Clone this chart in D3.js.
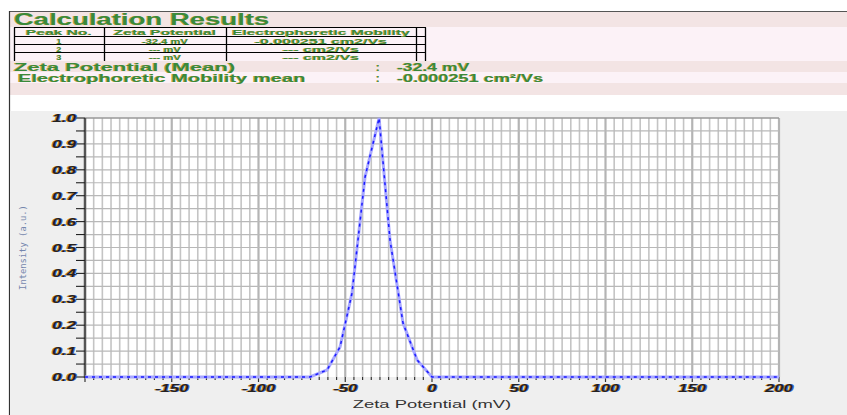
<!DOCTYPE html>
<html>
<head>
<meta charset="utf-8">
<script src="https://cdn.jsdelivr.net/npm/d3@7"></script>
<style>
  body { margin: 0; background: #fff; }
  svg { display: block; font-family: 'Liberation Sans', Arial, sans-serif; }
  .tick-lbl { font-weight: bold; font-style: italic; font-size: 11.5px; fill: #222;
    text-shadow: -0.7px 0 0 #d08a20, 0.7px 0 0 #3a6ad0; }
  .hdr { fill: #3a8a3a; font-weight: bold; text-shadow: -0.5px 0 0 #c9a040; }
</style>
</head>
<body>
<div id="chart"></div>
<script>
// table data
const tableHeader = ['Peak No.', 'Zeta Potential', 'Electrophoretic Mobility']
const peakNo = ['1', '2', '3']
const peakZeta = ['-32.4 mV', '--- mV', '--- mV']
const peakMobility = ['-0.000251 cm2/Vs', '--- cm2/Vs', '--- cm2/Vs']
const zetaMean = '-32.4 mV'
const mobilityMean = '-0.000251 cm²/Vs'

// distribution
const zeta = [-200, -70.3, -60.5, -53, -46.1, -38.6, -30.5, -24.2, -16.7, -8.6, 0, 200]
const intensity = [0, 0, 0.027, 0.116, 0.324, 0.772, 1.0, 0.529, 0.208, 0.066, 0, 0]
const xTicks = [-150, -100, -50, 0, 50, 100, 150, 200]
const yTicks = [0, 0.1, 0.2, 0.3, 0.4, 0.5, 0.6, 0.7, 0.8, 0.9, 1.0]

const W = 847
const H = 415
const margin = { top: 118, left: 85, right: 68, bottom: 38 }

// the original uses a very wide font, so widen the text
function stretch(sel, f) {
  sel.each(function() {
    const w = this.getComputedTextLength()
    d3.select(this).attr('textLength', w * f).attr('lengthAdjust', 'spacingAndGlyphs')
  })
}

const svg = d3
  .select('#chart')
  .append('svg')
  .attr('width', W)
  .attr('height', H)

// --- header panel ---
svg.append('rect').attr('x', 9).attr('y', 11).attr('width', W - 9).attr('height', H - 11).attr('fill', '#fff')
const bands = [
  [12, 27, '#f3e4e4'],
  [27, 61, '#fcf2f7'],
  [61, 72, '#f3e4e4'],
  [72, 83, '#fcf2f7'],
  [83, 95, '#f3e4e4']
]
bands.forEach(b => {
  svg.append('rect').attr('x', 10).attr('y', b[0]).attr('width', W - 10).attr('height', b[1] - b[0]).attr('fill', b[2])
})
svg.append('line').attr('x1', 9).attr('x2', W).attr('y1', 11.5).attr('y2', 11.5).attr('stroke', '#555').attr('stroke-width', 1.2)
svg.append('line').attr('x1', 9.5).attr('x2', 9.5).attr('y1', 11).attr('y2', H).attr('stroke', '#333').attr('stroke-width', 1.2)

svg.append('text')
  .attr('class', 'hdr')
  .attr('x', 14)
  .attr('y', 24.8)
  .attr('font-size', 16)
  .text('Calculation Results')
  .call(stretch, 1.72)

// table
const colX = [14, 104, 226, 416, 425]
const rowY = [27.5, 36.5, 44.5, 52.5, 61]
const colStretch = [1.1, 1.4, 2.0]
const tbl = svg.append('g')
colX.forEach(x => {
  tbl.append('line').attr('x1', x + 0.5).attr('x2', x + 0.5).attr('y1', rowY[0]).attr('y2', rowY[4]).attr('stroke', '#000').attr('stroke-width', 1.3)
})
rowY.slice(0, 4).forEach(y => {
  tbl.append('line').attr('x1', colX[0]).attr('x2', colX[4] + 1).attr('y1', y).attr('y2', y).attr('stroke', '#000').attr('stroke-width', 1)
})
const rows = [tableHeader].concat(peakNo.map((d, i) => [d, peakZeta[i], peakMobility[i]]))
rows.forEach((r, i) => {
  r.forEach((t, j) => {
    tbl.append('text')
      .attr('class', 'hdr')
      .attr('x', (colX[j] + colX[j + 1]) / 2)
      .attr('y', rowY[i] + 7.2)
      .attr('text-anchor', 'middle')
      .attr('font-size', 8)
      .attr('font-weight', i === 0 ? 'normal' : 'bold')
      .text(t)
      .call(stretch, i === 0 ? 1.95 : colStretch[j])
  })
})

svg.append('text').attr('class', 'hdr').attr('x', 14).attr('y', 70.5).attr('font-size', 11).text('Zeta Potential (Mean)').call(stretch, 2.0)
svg.append('text').attr('class', 'hdr').attr('x', 18).attr('y', 81.5).attr('font-size', 11).text('Electrophoretic Mobility mean').call(stretch, 1.83)
svg.append('text').attr('class', 'hdr').attr('x', 376).attr('y', 70.5).attr('font-size', 11).text(':')
svg.append('text').attr('class', 'hdr').attr('x', 376).attr('y', 81.5).attr('font-size', 11).text(':')
svg.append('text').attr('class', 'hdr').attr('x', 397).attr('y', 70.5).attr('font-size', 11).text(zetaMean).call(stretch, 1.6)
svg.append('text').attr('class', 'hdr').attr('x', 397).attr('y', 81.5).attr('font-size', 11).text(mobilityMean).call(stretch, 1.65)

// --- plot panel ---
svg.append('rect').attr('x', 10).attr('y', 111).attr('width', W - 10).attr('height', H - 111).attr('fill', '#efefef')

const x = d3.scaleLinear().domain([-200, 200]).range([margin.left, W - margin.right])
const y = d3.scaleLinear().domain([0, 1]).range([H - margin.bottom, margin.top])

svg.append('rect')
  .attr('x', x(-200)).attr('y', y(1))
  .attr('width', x(200) - x(-200)).attr('height', y(0) - y(1))
  .attr('fill', '#fff')

const grid = svg.append('g')
grid.selectAll('.vg')
  .data(d3.range(-195, 201, 5))
  .enter()
  .append('line')
  .attr('x1', d => x(d)).attr('x2', d => x(d))
  .attr('y1', y(1)).attr('y2', y(0))
  .attr('stroke', d => d % 50 === 0 ? '#b4b4b4' : '#c4c4c4')
  .attr('stroke-width', d => d % 50 === 0 ? 2.2 : 1.6)
grid.selectAll('.hg')
  .data(d3.range(0.05, 1.0001, 0.05))
  .enter()
  .append('line')
  .attr('x1', x(-200)).attr('x2', x(200))
  .attr('y1', d => y(d)).attr('y2', d => y(d))
  .attr('stroke', '#b8b8b8')
  .attr('stroke-width', 1.2)
svg.append('line').attr('x1', x(-200)).attr('x2', x(200)).attr('y1', y(1)).attr('y2', y(1)).attr('stroke', '#888').attr('stroke-width', 1)

// axes
const yAxis = svg.append('g')
yAxis.append('line').attr('x1', x(-200)).attr('x2', x(-200)).attr('y1', y(1)).attr('y2', y(0) + 1).attr('stroke', '#555').attr('stroke-width', 2.5)
yAxis.selectAll('.yt')
  .data(d3.range(0, 1.0001, 0.05))
  .enter()
  .append('line')
  .attr('x1', x(-200) - 9).attr('x2', x(-200))
  .attr('y1', d => y(d)).attr('y2', d => y(d))
  .attr('stroke', '#222').attr('stroke-width', 1.1)
yAxis.selectAll('.ylab')
  .data(yTicks)
  .enter()
  .append('text')
  .attr('class', 'tick-lbl')
  .attr('x', x(-200) - 9)
  .attr('y', d => y(d) + 4)
  .attr('text-anchor', 'end')
  .text(d => d.toFixed(1))
  .call(stretch, 1.5)

const xAxis = svg.append('g')
xAxis.selectAll('.xt')
  .data(d3.range(-200, 201, 5))
  .enter()
  .append('line')
  .attr('x1', d => x(d)).attr('x2', d => x(d))
  .attr('y1', y(0)).attr('y2', d => y(0) + (d % 50 === 0 ? 5 : 3))
  .attr('stroke', '#333').attr('stroke-width', 1.2)
xAxis.selectAll('.xlab')
  .data(xTicks)
  .enter()
  .append('text')
  .attr('class', 'tick-lbl')
  .attr('x', d => x(d))
  .attr('y', y(0) + 15)
  .attr('text-anchor', 'middle')
  .text(d => d)
  .call(stretch, 1.45)

svg.append('text')
  .attr('x', x(0))
  .attr('y', 408)
  .attr('text-anchor', 'middle')
  .attr('font-size', 11.5)
  .attr('fill', '#333')
  .text('Zeta Potential (mV)')
  .call(stretch, 1.6)

svg.append('text')
  .attr('transform', 'translate(26,' + y(0.5) + ') rotate(-90)')
  .attr('text-anchor', 'middle')
  .attr('font-family', "'DejaVu Sans Mono', monospace")
  .attr('font-size', 8.8)
  .attr('fill', '#7486ad')
  .text('Intensity (a.u.)')

// curve
const pts = zeta.map((d, i) => [d, intensity[i]])
const line = d3.line().x(d => x(d[0])).y(d => y(d[1]))
svg.append('path').datum(pts).attr('d', line).attr('fill', 'none').attr('stroke', '#a8a8ff').attr('stroke-width', 3)
svg.append('path').datum(pts).attr('d', line).attr('fill', 'none').attr('stroke', '#1a1aff').attr('stroke-width', 1.5).attr('stroke-dasharray', '3,4')
</script>
</body>
</html>
